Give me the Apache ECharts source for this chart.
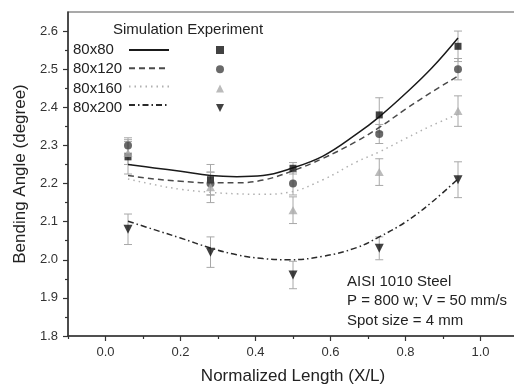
<!DOCTYPE html>
<html>
<head>
<meta charset="utf-8">
<script src="https://cdn.jsdelivr.net/npm/echarts@6/dist/echarts.min.js"></script>
<style>
  html, body { margin: 0; padding: 0; background: #fff; }
  #chart { width: 514px; height: 386px; }
</style>
</head>
<body>
<div id="chart"></div>
<script>
// simulation curves
const simX = [0.06, 0.13, 0.2, 0.28, 0.35, 0.42, 0.49, 0.58, 0.67, 0.73, 0.80, 0.87, 0.94];
const sim80 = [2.250, 2.241, 2.232, 2.221, 2.218, 2.221, 2.238, 2.272, 2.330, 2.375, 2.436, 2.503, 2.582];
const sim120 = [2.221, 2.212, 2.206, 2.202, 2.202, 2.209, 2.230, 2.266, 2.311, 2.347, 2.395, 2.440, 2.482];
const sim160 = [2.212, 2.197, 2.185, 2.177, 2.173, 2.172, 2.177, 2.210, 2.257, 2.283, 2.318, 2.352, 2.382];
const sim200 = [2.101, 2.079, 2.057, 2.031, 2.013, 2.003, 2.000, 2.009, 2.032, 2.060, 2.099, 2.151, 2.212];

// experiment points with error
const expX = [0.06, 0.28, 0.5, 0.73, 0.94];
const exp80 = [2.27, 2.21, 2.24, 2.38, 2.56];
const err80 = [0.045, 0.04, 0.015, 0.045, 0.04];
const exp120 = [2.30, 2.20, 2.20, 2.33, 2.50];
const err120 = [0.02, 0.03, 0.03, 0.025, 0.028];
const exp160 = [2.28, 2.19, 2.13, 2.23, 2.39];
const err160 = [0.03, 0.04, 0.035, 0.035, 0.04];
const exp200 = [2.08, 2.02, 1.96, 2.03, 2.21];
const err200 = [0.04, 0.04, 0.036, 0.03, 0.047];

const sizeNames = ['80x80', '80x120', '80x160', '80x200'];
const xTicks = [0, 0.2, 0.4, 0.6, 0.8, 1.0];
const xMinorTicks = [-0.1, 0.1, 0.3, 0.5, 0.7, 0.9, 1.1];
const yTicks = [1.8, 1.9, 2.0, 2.1, 2.2, 2.3, 2.4, 2.5, 2.6];
const yMinorTicks = [1.85, 1.95, 2.05, 2.15, 2.25, 2.35, 2.45, 2.55];
const notes = ['AISI 1010 Steel', 'P = 800 w; V = 50 mm/s', 'Spot size = 4 mm'];

const FONT = '"Liberation Sans", Arial, sans-serif';
const sims = [sim80, sim120, sim160, sim200];
const exps = [exp80, exp120, exp160, exp200];
const errs = [err80, err120, err160, err200];

const lineStyles = [
  { color: '#1a1a1a', width: 1.5, type: 'solid' },
  { color: '#4a4a4a', width: 1.5, type: [6, 4] },
  { color: '#b0b0b0', width: 1.5, type: [1.5, 4] },
  { color: '#2a2a2a', width: 1.5, type: [6, 3, 1.5, 3] },
];
const markers = [
  { symbol: 'rect', size: 7, color: '#111' },
  { symbol: 'circle', size: 8, color: '#444' },
  { symbol: 'triangle', size: [9, 8], color: '#aaa' },
  { symbol: 'path://M0,0L10,0L5,10Z', size: [9, 9], color: '#111' },
];
const expNames = sizeNames.map((n) => n + ' exp');

const series = [];
sizeNames.forEach((name, k) => {
  series.push({
    type: 'custom',
    z: 1,
    silent: true,
    data: expX.map((x, i) => [x, exps[k][i] - errs[k][i], exps[k][i] + errs[k][i]]),
    encode: { x: 0, y: [1, 2] },
    renderItem: (params, api) => {
      const lo = api.coord([api.value(0), api.value(1)]);
      const hi = api.coord([api.value(0), api.value(2)]);
      const style = { stroke: '#a8a8a8', lineWidth: 1 };
      return {
        type: 'group',
        children: [
          { type: 'line', shape: { x1: lo[0], y1: lo[1], x2: hi[0], y2: hi[1] }, style },
          { type: 'line', shape: { x1: lo[0] - 4, y1: lo[1], x2: lo[0] + 4, y2: lo[1] }, style },
          { type: 'line', shape: { x1: hi[0] - 4, y1: hi[1], x2: hi[0] + 4, y2: hi[1] }, style },
        ],
      };
    },
  });
});
sizeNames.forEach((name, k) => {
  series.push({
    name,
    type: 'line',
    z: 2,
    data: simX.map((x, i) => [x, sims[k][i]]),
    smooth: 0.4,
    symbol: 'none',
    lineStyle: lineStyles[k],
    itemStyle: { color: lineStyles[k].color },
  });
});
sizeNames.forEach((name, k) => {
  series.push({
    name: expNames[k],
    type: 'scatter',
    z: 3,
    data: expX.map((x, i) => [x, exps[k][i]]),
    symbol: markers[k].symbol,
    symbolSize: markers[k].size,
    itemStyle: { color: markers[k].color },
  });
});

const graphic = [
  { type: 'text', x: 113, y: 30, style: { text: 'Simulation Experiment', font: '15px ' + FONT, fill: '#222', verticalAlign: 'middle' } },
];
sizeNames.forEach((name, k) => {
  graphic.push({ type: 'text', x: 73, y: 50 + k * 19.3, style: { text: name, font: '15px ' + FONT, fill: '#222', verticalAlign: 'middle' } });
});
notes.forEach((t, k) => {
  graphic.push({ type: 'text', x: 347, y: 282 + k * 19.3, style: { text: t, font: '15px ' + FONT, fill: '#222', verticalAlign: 'middle' } });
});

const chart = echarts.init(document.getElementById('chart'), null, { renderer: 'canvas' });
chart.setOption({
  animation: false,
  backgroundColor: '#fff',
  textStyle: { fontFamily: FONT },
  grid: {
    left: 68, top: 12, right: -4, bottom: 50, containLabel: false, outerBoundsMode: 'none',
    show: true, borderColor: '#555', borderWidth: 1.2,
  },
  legend: [
    {
      data: sizeNames, orient: 'vertical', left: 128, top: 45, padding: 0,
      itemWidth: 40, itemHeight: 10, itemGap: 9.3, formatter: () => '', selectedMode: false,
      itemStyle: { color: 'rgba(0,0,0,0)', opacity: 0, borderWidth: 0 },
    },
    {
      data: expNames, orient: 'vertical', left: 216, top: 46, padding: 0,
      itemWidth: 8, itemHeight: 8, itemGap: 11.3, formatter: () => '', selectedMode: false,
    },
  ],
  xAxis: [
    {
      type: 'value', min: -0.1, max: 1.1,
      name: 'Normalized Length (X/L)', nameLocation: 'middle', nameGap: 32, nameMoveOverlap: false,
      nameTextStyle: { fontSize: 17, color: '#222', fontFamily: FONT },
      axisLine: { onZero: false, lineStyle: { color: '#333', width: 1.5 } },
      axisTick: { customValues: xTicks, length: 5, lineStyle: { color: '#333', width: 1.2 } },
      axisLabel: { customValues: xTicks, margin: 10, fontSize: 13, color: '#333', formatter: (v) => v.toFixed(1) },
      splitLine: { show: false },
    },
    {
      type: 'value', min: -0.1, max: 1.1, position: 'bottom', gridIndex: 0,
      axisLine: { show: false, onZero: false },
      axisTick: { customValues: xMinorTicks, length: 3, lineStyle: { color: '#333', width: 1.2 } },
      axisLabel: { show: false },
      splitLine: { show: false },
    },
  ],
  yAxis: [
    {
      type: 'value', min: 1.8, max: 2.65,
      name: 'Bending Angle (degree)', nameLocation: 'middle', nameGap: 39, nameMoveOverlap: false,
      nameTextStyle: { fontSize: 17, color: '#222', fontFamily: FONT },
      axisLine: { show: true, onZero: false, lineStyle: { color: '#333', width: 1.5 } },
      axisTick: { show: true, customValues: yTicks, length: 5, lineStyle: { color: '#333', width: 1.2 } },
      axisLabel: { customValues: yTicks, margin: 10, fontSize: 13, color: '#333', formatter: (v) => v.toFixed(1) },
      splitLine: { show: false },
    },
    {
      type: 'value', min: 1.8, max: 2.65, position: 'left', gridIndex: 0,
      axisLine: { show: false, onZero: false },
      axisTick: { show: true, customValues: yMinorTicks, length: 3, lineStyle: { color: '#333', width: 1.2 } },
      axisLabel: { show: false },
      splitLine: { show: false },
    },
  ],
  graphic,
  series,
});
</script>
</body>
</html>
